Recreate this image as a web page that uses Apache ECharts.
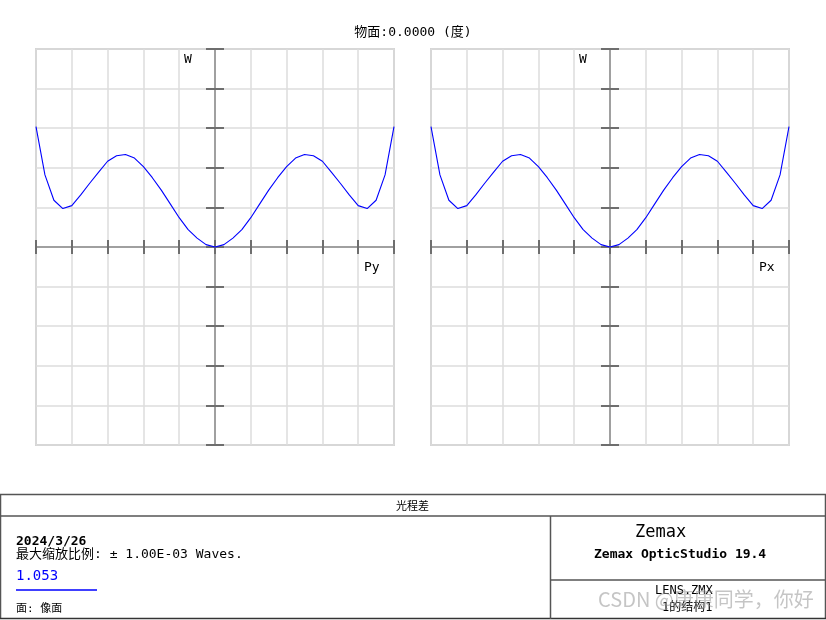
<!DOCTYPE html>
<html>
<head>
<meta charset="utf-8">
<script src="https://cdn.jsdelivr.net/npm/echarts@6/dist/echarts.min.js"></script>
<style>
html,body{margin:0;padding:0;background:#fff;}
#c{width:826px;height:620px;}
</style>
</head>
<body>
<div id="c"></div>
<script>
// Pupil coordinate (Py / Px) and OPD W (fraction of max scale, ±1.00E-03 waves)
const pupil = [-1.0,-0.95,-0.9,-0.85,-0.8,-0.75,-0.7,-0.65,-0.6,-0.55,-0.5,-0.45,-0.4,-0.35,-0.3,-0.25,-0.2,-0.15,-0.1,-0.05,0,
  0.05,0.1,0.15,0.2,0.25,0.3,0.35,0.4,0.45,0.5,0.55,0.6,0.65,0.7,0.75,0.8,0.85,0.9,0.95,1.0];
const opdTangential = [0.608,0.364,0.236,0.194,0.209,0.263,0.322,0.378,0.433,0.461,0.467,0.449,0.406,0.350,0.287,0.218,0.148,0.088,0.045,0.012,0,
  0.012,0.045,0.088,0.148,0.218,0.287,0.350,0.406,0.449,0.467,0.461,0.433,0.378,0.322,0.263,0.209,0.194,0.236,0.364,0.608];
const opdSagittal = [0.608,0.364,0.236,0.194,0.209,0.263,0.322,0.378,0.433,0.461,0.467,0.449,0.406,0.350,0.287,0.218,0.148,0.088,0.045,0.012,0,
  0.012,0.045,0.088,0.148,0.218,0.287,0.350,0.406,0.449,0.467,0.461,0.433,0.378,0.322,0.263,0.209,0.194,0.236,0.364,0.608];
const axisMin = -1, axisMax = 1, axisStep = 0.2;

const mono = '"DejaVu Sans Mono","Noto Sans CJK SC",monospace';
const chart = echarts.init(document.getElementById('c'), null, {renderer:'canvas'});

function xAxes(gi){
  const base = {type:'value', gridIndex:gi, min:axisMin, max:axisMax, interval:axisStep,
    axisLabel:{show:false}};
  return [
    Object.assign({}, base, {position:'bottom',
      axisLine:{show:true, onZero:true, lineStyle:{color:'#a0a0a0', width:2}},
      axisTick:{show:true, length:7, lineStyle:{color:'#6e6e6e', width:2}},
      splitLine:{show:true, lineStyle:{color:'#dcdcdc', width:1.5}}}),
    Object.assign({}, base, {position:'top',
      axisLine:{show:false, onZero:true},
      axisTick:{show:true, length:7, lineStyle:{color:'#6e6e6e', width:2}},
      splitLine:{show:false}})
  ];
}
function yAxes(gi){
  const base = {type:'value', gridIndex:gi, min:axisMin, max:axisMax, interval:axisStep,
    axisLabel:{show:false}};
  return [
    Object.assign({}, base, {position:'left',
      axisLine:{show:true, onZero:true, lineStyle:{color:'#a0a0a0', width:2}},
      axisTick:{show:true, length:9, lineStyle:{color:'#6e6e6e', width:2}},
      splitLine:{show:true, lineStyle:{color:'#dcdcdc', width:1.5}}}),
    Object.assign({}, base, {position:'right',
      axisLine:{show:false, onZero:true},
      axisTick:{show:true, length:9, lineStyle:{color:'#6e6e6e', width:2}},
      splitLine:{show:false}})
  ];
}

const txt = (x,y,text,opt) => ({type:'text', left:x, top:y, silent:true,
  style:Object.assign({text:text, fill:'#000', font:'13px '+mono}, opt||{})});
const ln = (x1,y1,x2,y2,c,w) => ({type:'line', silent:true,
  shape:{x1:x1,y1:y1,x2:x2,y2:y2}, style:{stroke:c||'#555', lineWidth:w||1.5}});

const option = {
  animation:false,
  backgroundColor:'#fff',
  title:{text:'物面:0.0000 (度)', left:'center', top:21,
    textStyle:{fontFamily:mono, fontSize:13, fontWeight:'normal', color:'#000'}},
  grid:[
    {left:36, top:49, width:358, height:396, show:true, borderColor:'#b4b4b4', borderWidth:1.5, backgroundColor:'transparent'},
    {left:431, top:49, width:358, height:396, show:true, borderColor:'#b4b4b4', borderWidth:1.5, backgroundColor:'transparent'}
  ],
  xAxis:[...xAxes(0), ...xAxes(1)],
  yAxis:[...yAxes(0), ...yAxes(1)],
  series:[
    {type:'line', xAxisIndex:0, yAxisIndex:0, showSymbol:false, smooth:false,
      lineStyle:{color:'#0000ff', width:1.1}, data:pupil.map((p,i)=>[p, opdTangential[i]])},
    {type:'line', xAxisIndex:2, yAxisIndex:2, showSymbol:false, smooth:false,
      lineStyle:{color:'#0000ff', width:1.1}, data:pupil.map((p,i)=>[p, opdSagittal[i]])}
  ],
  graphic:[
    txt(184,53,'W'), txt(579,53,'W'),
    txt(364,261,'Py'), txt(759,261,'Px'),
    // footer box
    ln(0,494.5,826,494.5,'#555',1.5),
    ln(0.5,494,0.5,619,'#555',1.5),
    ln(825.5,494,825.5,619,'#555',1.5),
    ln(0,618.5,826,618.5,'#333',1.5),
    ln(0,516,826,516,'#555',1.5),
    ln(550.5,516,550.5,619,'#555',1.5),
    ln(550,580,826,580,'#555',1.5),
    txt(396,500,'光程差',{font:'11px "Noto Sans CJK SC",sans-serif'}),
    txt(16,535,'2024/3/26',{font:'bold 13px '+mono}),
    txt(16,548,'最大缩放比例: ± 1.00E-03 Waves.'),
    txt(16,569,'1.053',{fill:'#0000ff', font:'14px '+mono}),
    ln(16,590,97,590,'#0000ff',1.5),
    txt(16,604,'面: 像面',{font:'11px '+mono}),
    txt(635,524,'Zemax',{font:'17px '+mono}),
    txt(594,548,'Zemax OpticStudio 19.4',{font:'bold 13px '+mono}),
    txt(655,585,'LENS.ZMX',{font:'12px '+mono}),
    txt(662,602,'1的结构1',{font:'12px '+mono}),
    txt(598,589,'CSDN @康康同学，你好',{fill:'rgba(150,150,150,0.55)', font:'20px "Noto Sans CJK SC",sans-serif'})
  ]
};
chart.setOption(option);
</script>
</body>
</html>
